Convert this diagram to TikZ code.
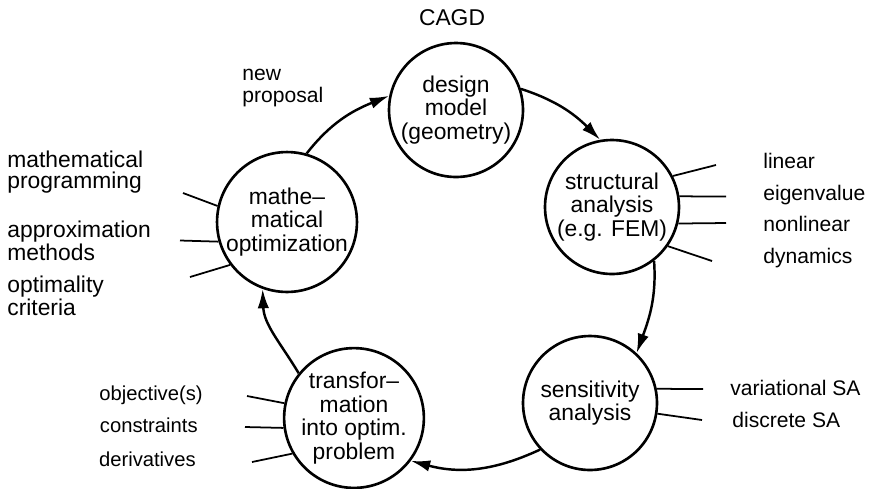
\documentclass[tikz,border=0pt]{standalone}
\usepackage{fontspec}
\setmainfont{Liberation Sans}
\usetikzlibrary{arrows.meta}

\begin{document}
\begin{tikzpicture}[x=0.02cm,y=0.02cm,
        phase/.style={circle,draw,line width=1.5pt,minimum size=2.68cm,inner sep=0pt,
            align=center,font=\fontsize{13}{13.5}\selectfont},
        flow/.style={line width=1.4pt,-{Latex[length=11pt,width=6.5pt]}},
        spoke/.style={line width=1pt},
        note/.style={inner sep=0pt,font=\fontsize{12}{12.5}\selectfont},
        smallnote/.style={inner sep=0pt,font=\fontsize{11.5}{12}\selectfont},
        bignote/.style={inner sep=0pt,align=left,font=\fontsize{13}{12}\selectfont}]
    \useasboundingbox (0,0) rectangle (869,-488);

    % the five stages of the loop
    \node[phase] (dm) at (456,-110) {design\\model\\(geometry)};
    \node[phase] (sa) at (612,-207) {structural\\analysis\\(e.g. FEM)};
    \node[phase] (se) at (590,-403) {sensitivity\\analysis};
    \node[phase] (tr) at (354,-418) {transfor–\\mation\\into optim.\\problem};
    \node[phase] (mo) at (287,-222) {mathe–\\matical\\optimization};

    % arcs of the loop
    \draw[flow] (mo.74) to[out=52,in=202] (dm.168);
    \draw[flow] (dm.18) to[out=-18,in=135] (sa.100);
    \draw[flow] (sa.-52) to[out=-86,in=70] (se.47);
    \draw[flow] (se.-137) to[out=-155,in=-15] (tr.-37);
    \draw[flow] (tr.141) to[out=121,in=272] (mo.-110);

    % labels
    \node[note,font=\fontsize{13}{13}\selectfont,anchor=base] (cagd) at (452,-25) {CAGD};
    \node[note,align=left,anchor=north west] (np) at (242,-64.6) {\strut new\\proposal};

    \node[note,anchor=base west] (lin) at (763,-168) {linear};
    \node[note,anchor=base west] (eig) at (763,-200) {eigenvalue};
    \node[note,anchor=base west] (nonlin) at (763,-231) {nonlinear};
    \node[note,anchor=base west] (dyn) at (763,-263) {dynamics};

    \node[note,anchor=base west] (var) at (730,-395) {variational SA};
    \node[note,anchor=base west] (dis) at (732,-427) {discrete SA};

    \node[smallnote,anchor=base east] (obj) at (203,-400) {objective(s)};
    \node[smallnote,anchor=base east] (con) at (198,-432) {constraints};
    \node[smallnote,anchor=base east] (der) at (196,-466) {derivatives};

    \node[bignote,anchor=north west] (mp) at (7,-150.6) {mathematical\\programming};
    \node[bignote,anchor=north west] (am) at (7,-220.6) {approximation\\methods};
    \node[bignote,anchor=north west] (oc) at (7,-275.6) {optimality\\criteria};

    % short spokes
    \coordinate (sa1) at (716,-165);
    \coordinate (sa2) at (726,-196.5);
    \coordinate (sa3) at (726,-223);
    \coordinate (sa4) at (712,-261);
    \coordinate (se1) at (703,-389);
    \coordinate (se2) at (702,-420);
    \coordinate (tr1) at (247,-396);
    \coordinate (tr2) at (245,-427);
    \coordinate (tr3) at (252,-462);
    \coordinate (mo1) at (183,-193);
    \coordinate (mo2) at (180,-240.5);
    \coordinate (mo3) at (190,-277);

    \draw[spoke] (sa.27) -- (sa1);
    \draw[spoke] (sa.9) -- (sa2);
    \draw[spoke] (sa.-14) -- (sa3);
    \draw[spoke] (sa.-35) -- (sa4);
    \draw[spoke] (se.12) -- (se1);
    \draw[spoke] (se.-9) -- (se2);
    \draw[spoke] (tr.168) -- (tr1);
    \draw[spoke] (tr.188) -- (tr2);
    \draw[spoke] (tr.210) -- (tr3);
    \draw[spoke] (mo.167) -- (mo1);
    \draw[spoke] (mo.196) -- (mo2);
    \draw[spoke] (mo.217) -- (mo3);
\end{tikzpicture}
\end{document}
